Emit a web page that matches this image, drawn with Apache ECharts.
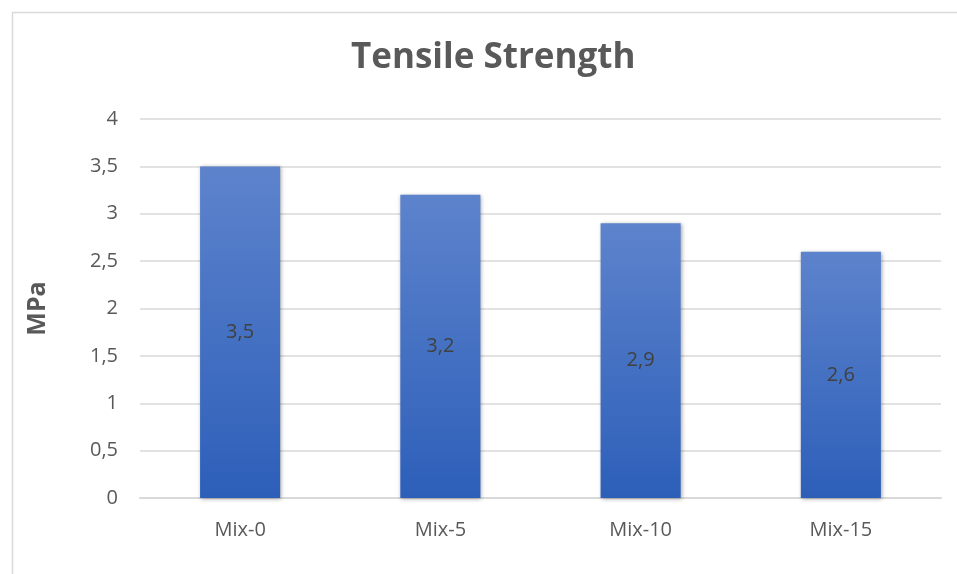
<!DOCTYPE html>
<html>
<head>
<meta charset="utf-8">
<script src="https://cdn.jsdelivr.net/npm/echarts@6/dist/echarts.min.js"></script>
<style>
  html, body { margin: 0; padding: 0; background: #fff; }
  #chart { width: 957px; height: 574px; }
</style>
</head>
<body>
<div id="chart"></div>
<script>
// data
var categories = ['Mix-0', 'Mix-5', 'Mix-10', 'Mix-15'];
var strength = [3.5, 3.2, 2.9, 2.6];

var chart = echarts.init(document.getElementById('chart'));

function comma(v) {
    return String(v).replace('.', ',');
}

var option = {
    backgroundColor: '#fff',
    textStyle: { fontFamily: 'Open Sans' },
    graphic: [{
        type: 'rect',
        left: 10, top: 10,
        shape: { width: 960, height: 580 },
        style: { fill: 'none', stroke: '#d9d9d9', lineWidth: 1.5 },
        silent: true
    }],
    title: {
        text: 'Tensile Strength',
        left: 346,
        top: 36,
        textStyle: { fontSize: 35, fontWeight: 'bold', color: '#595959', fontFamily: 'Open Sans' }
    },
    grid: { left: 140, right: 16, top: 119, bottom: 76 },
    xAxis: {
        type: 'category',
        data: categories,
        axisLine: { lineStyle: { color: '#d9d9d9', width: 2 } },
        axisTick: { show: false },
        axisLabel: { fontSize: 20, color: '#595959', margin: 22 }
    },
    yAxis: {
        type: 'value',
        min: 0, max: 4, interval: 0.5,
        name: 'MPa',
        nameLocation: 'middle',
        nameGap: 90,
        nameTextStyle: { fontSize: 25, fontWeight: 'bold', color: '#595959' },
        axisLine: { show: false },
        axisTick: { show: false },
        splitLine: { lineStyle: { color: '#d9d9d9', width: 1.5 } },
        axisLabel: { fontSize: 20, color: '#595959', margin: 22, formatter: comma }
    },
    series: [{
        type: 'bar',
        data: strength,
        barWidth: '40%',
        itemStyle: {
            color: new echarts.graphic.LinearGradient(0, 0, 0, 1, [
                { offset: 0, color: '#5d83cc' },
                { offset: 1, color: '#2d5fb9' }
            ]),
            shadowColor: 'rgba(0,0,0,0.35)',
            shadowBlur: 4,
            shadowOffsetX: 1,
            shadowOffsetY: 1
        },
        label: {
            show: true,
            position: 'inside',
            fontSize: 20,
            color: '#404040',
            formatter: function (p) { return comma(p.value); }
        }
    }]
};

chart.setOption(option);
</script>
</body>
</html>
